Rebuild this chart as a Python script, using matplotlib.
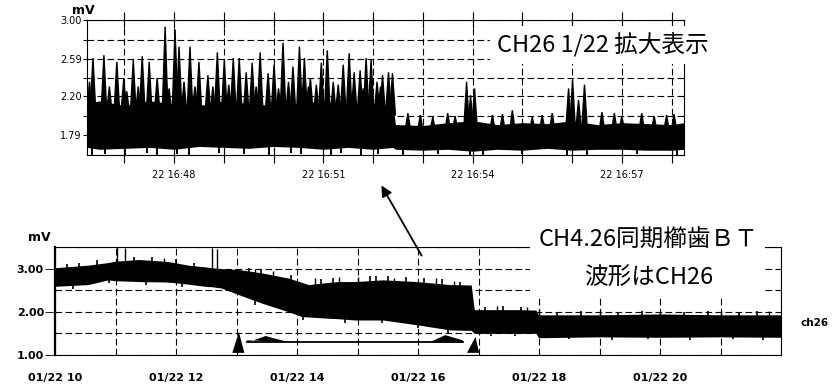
import matplotlib
matplotlib.use("Agg")
import matplotlib.pyplot as plt
import numpy as np
from matplotlib.patches import Rectangle

JP = ["Noto Sans CJK JP", "DejaVu Sans"]

# ---- zoomed trace (minutes after 16:00) ----
zoom_env_t = [46.25, 46.5, 47.0, 47.5, 48.0, 48.5, 49.0, 49.5, 50.0, 50.5, 51.0, 51.5, 52.0, 52.4,
              52.45, 53.0, 53.5, 54.0, 54.5, 55.0, 55.5, 56.0, 56.5, 57.0, 57.5, 58.0, 58.25]
zoom_env_lo = [1.66, 1.64, 1.65, 1.66, 1.64, 1.67, 1.66, 1.65, 1.67, 1.66, 1.64, 1.66, 1.64, 1.66,
               1.64, 1.63, 1.64, 1.62, 1.64, 1.63, 1.65, 1.63, 1.64, 1.64, 1.63, 1.63, 1.64]
zoom_env_hi = [2.12, 2.15, 2.10, 2.15, 2.12, 2.10, 2.15, 2.12, 2.10, 2.12, 2.15, 2.10, 2.12, 2.10,
               1.90, 1.89, 1.92, 1.94, 1.90, 1.92, 1.91, 1.94, 1.90, 1.92, 1.91, 1.90, 1.92]
zoom_spike_t = [46.37, 46.59, 46.85, 46.99, 47.18, 47.36, 47.50, 47.66, 47.82, 48.02, 48.10, 48.32,
                48.50, 48.68, 48.87, 49.01, 49.19, 49.31, 49.45, 49.57, 49.73, 49.89, 50.01, 50.19,
                50.39, 50.52, 50.62, 50.74, 50.86, 50.96, 51.08, 51.20, 51.40, 51.52, 51.62, 51.74,
                51.86, 51.96, 52.08, 52.19, 52.31, 52.39, 53.88, 53.96, 54.04, 55.93, 56.01, 56.13,
                56.25,
                46.30, 46.70, 47.05, 47.28, 47.90, 48.20, 48.42, 48.78, 49.10, 49.65, 50.10, 50.30,
                50.70, 51.30, 51.80, 52.15,
                52.70, 53.20, 53.50, 54.40, 54.80, 55.20, 55.60, 56.60, 57.00, 57.40, 57.90,
                52.95, 53.65, 54.60, 55.40, 56.85, 57.65, 58.05]
zoom_spike_v = [2.60, 2.63, 2.56, 2.39, 2.58, 2.62, 2.56, 2.39, 2.93, 2.90, 2.72, 2.72,
                2.56, 2.42, 2.66, 2.58, 2.60, 2.60, 2.45, 2.55, 2.66, 2.44, 2.53, 2.76,
                2.51, 2.72, 2.60, 2.39, 2.32, 2.55, 2.68, 2.35, 2.53, 2.65, 2.45, 2.47,
                2.60, 2.58, 2.35, 2.42, 2.45, 2.44, 2.35, 2.21, 2.28, 2.28, 2.37, 2.16,
                2.32,
                2.35, 2.30, 2.25, 2.30, 2.28, 2.35, 2.30, 2.30, 2.32, 2.30, 2.28, 2.35,
                2.30, 2.32, 2.28, 2.30,
                2.02, 1.98, 2.02, 2.00, 2.05, 1.98, 2.02, 2.03, 1.99, 2.02, 2.00,
                2.00, 1.99, 2.01, 2.00, 2.02, 1.99, 2.01]
zoom_dip_t = [46.35, 46.62, 47.02, 47.45, 47.65, 48.05, 48.30, 48.90, 49.40, 49.90, 50.35, 50.55,
              51.15, 51.35, 51.75, 52.10, 52.60, 53.30, 53.95, 54.20, 55.00, 55.90, 56.30, 57.30, 58.10]
zoom_dip_v = [1.58, 1.59, 1.58, 1.60, 1.58, 1.59, 1.58, 1.60, 1.59, 1.58, 1.60, 1.59,
              1.58, 1.60, 1.58, 1.59, 1.58, 1.59, 1.57, 1.58, 1.59, 1.58, 1.57, 1.59, 1.58]
zoom_xticks = [48, 51, 54, 57]
zoom_xlabels = ["22 16:48", "22 16:51", "22 16:54", "22 16:57"]
zoom_xminor = [47, 49, 50, 52, 53, 55, 56, 58]
zoom_yticks = [1.79, 2.20, 2.59, 3.00]
zoom_ylabels = ["1.79", "2.20", "2.59", "3.00"]
zoom_yminor = [1.99, 2.39, 2.79]

# ---- full trace (hours of 01/22) ----
day_env_t = [10.0, 10.55, 10.88, 10.99, 11.38, 11.82, 11.93, 12.2, 12.48, 12.59, 12.75, 13.03,
             13.42, 13.75, 13.86, 14.08, 14.19, 14.52, 14.68, 14.96, 15.42, 15.98, 16.53, 16.88,
             16.93, 17.64, 17.95, 17.99, 19.0, 20.0, 21.0, 22.0]
day_env_hi = [3.02, 3.08, 3.14, 3.17, 3.21, 3.17, 3.15, 3.08, 3.04, 3.02, 3.00, 2.98,
              2.90, 2.81, 2.78, 2.68, 2.63, 2.68, 2.70, 2.70, 2.74, 2.70, 2.63, 2.62,
              2.05, 2.05, 2.04, 1.93, 1.93, 1.95, 1.93, 1.93]
day_env_lo = [2.59, 2.63, 2.74, 2.72, 2.70, 2.69, 2.68, 2.64, 2.59, 2.58, 2.55, 2.40,
              2.20, 2.05, 2.00, 1.89, 1.88, 1.85, 1.84, 1.81, 1.81, 1.70, 1.58, 1.57,
              1.50, 1.50, 1.50, 1.40, 1.42, 1.41, 1.42, 1.41]
day_spike_t = [11.03, 11.15, 12.60, 12.68, 11.80, 13.30, 13.60, 14.30, 14.70, 15.00, 15.60, 16.30,
               16.60, 17.30, 17.80, 18.00, 19.00, 20.00, 21.00, 21.80]
day_spike_v = [3.50, 3.48, 3.48, 3.46, 3.25, 2.98, 2.94, 2.78, 2.80, 2.80, 2.78, 2.78,
               2.72, 2.14, 2.12, 2.06, 2.02, 2.03, 2.03, 2.02]
day_hair_t = [10.2, 10.4, 10.7, 11.3, 11.6, 12.0, 12.3, 13.2, 13.4, 13.9, 14.4, 14.6, 15.2, 15.3,
              15.5, 15.8, 16.1, 16.4, 16.7, 17.1, 17.4, 17.7, 18.3, 18.7, 19.3, 19.7, 20.4, 20.8,
              21.3, 21.6]
day_hair_v = [3.10, 3.14, 3.20, 3.28, 3.26, 3.22, 3.14, 3.02, 2.98, 2.86, 2.76, 2.78, 2.82, 2.84,
              2.82, 2.80, 2.78, 2.76, 2.70, 2.12, 2.14, 2.12, 2.00, 2.02, 2.00, 2.01, 2.00, 2.02,
              2.00, 2.01]
day_drop_t = [10.3, 10.9, 11.5, 12.1, 13.3, 14.1, 14.8, 15.4, 16.0, 16.5, 17.2, 17.6, 18.5,
              19.2, 19.8, 20.5, 21.2, 21.7]
day_drop_v = [2.53, 2.66, 2.62, 2.58, 2.16, 1.82, 1.74, 1.73, 1.62, 1.52, 1.45, 1.44, 1.36,
              1.35, 1.37, 1.35, 1.36, 1.35]
day_xticks = [10, 12, 14, 16, 18, 20]
day_xlabels = ["01/22 10", "01/22 12", "01/22 14", "01/22 16", "01/22 18", "01/22 20"]
day_xminor = [11, 13, 15, 17, 19, 21]
day_yticks = [1.0, 2.0, 3.0]
day_ylabels = ["1.00", "2.00", "3.00"]
day_yminor = [1.5, 2.5, 3.5]

GRID = dict(color="black", lw=0.8, linestyle=(0, (6, 3)))

fig = plt.figure(figsize=(8.4, 3.87), dpi=100)

# zoomed panel
ax1 = fig.add_axes([87 / 840, 1 - 155 / 387, 597 / 840, 135 / 387])
ax1.set_axisbelow(True)
ax1.fill_between(zoom_env_t, zoom_env_lo, zoom_env_hi, color="black", lw=0)
w = 0.06
for t, v in zip(zoom_spike_t, zoom_spike_v):
    base = 2.0 if t < 52.42 else 1.82
    ax1.fill([t - w, t, t + w], [base, v, base], color="black", lw=1.0)
ax1.vlines(zoom_dip_t, 1.72, zoom_dip_v, color="black", lw=1.4)
ax1.set_xlim(46.25, 58.25)
ax1.set_ylim(1.58, 3.00)
ax1.set_xticks(zoom_xticks)
ax1.set_xticklabels(zoom_xlabels)
ax1.set_xticks(zoom_xminor, minor=True)
ax1.set_yticks(zoom_yticks)
ax1.set_yticklabels(zoom_ylabels)
ax1.set_yticks(zoom_yminor, minor=True)
ax1.grid(which="both", **GRID)
ax1.tick_params(axis="x", which="both", direction="inout", length=11, width=0.8,
                top=True, labelsize=7, pad=5)
ax1.tick_params(axis="y", which="both", length=3, width=0.8, labelsize=7, pad=1)
for s in ax1.spines.values():
    s.set_linewidth(0.8)

# full day panel
ax2 = fig.add_axes([55 / 840, 1 - 355 / 387, 726 / 840, 108 / 387])
ax2.set_axisbelow(True)
ax2.fill_between(day_env_t, day_env_lo, day_env_hi, color="black", lw=0)
ax2.vlines(day_spike_t, np.interp(day_spike_t, day_env_t, day_env_hi) - 0.05, day_spike_v,
           color="black", lw=1.0)
ax2.vlines(day_hair_t, np.interp(day_hair_t, day_env_t, day_env_hi) - 0.05, day_hair_v,
           color="black", lw=1.2)
ax2.vlines(day_drop_t, np.interp(day_drop_t, day_env_t, day_env_lo) + 0.05, day_drop_v,
           color="black", lw=1.2)
ax2.set_xlim(10, 22)
ax2.set_ylim(1.0, 3.5)
ax2.set_xticks(day_xticks)
ax2.set_xticklabels(day_xlabels)
ax2.set_xticks(day_xminor, minor=True)
ax2.set_yticks(day_yticks)
ax2.set_yticklabels(day_ylabels)
ax2.set_yticks(day_yminor, minor=True)
ax2.grid(which="both", **GRID)
ax2.tick_params(axis="x", which="both", length=0, labelsize=8, pad=13)
ax2.tick_params(axis="y", which="major", length=7, width=0.6, labelsize=8, pad=1)
ax2.tick_params(axis="y", which="minor", length=0)
for lab in ax2.get_xticklabels() + ax2.get_yticklabels():
    lab.set_fontweight("bold")
for s in ax2.spines.values():
    s.set_linewidth(0.8)
ax2.spines["left"].set_linewidth(1.6)

# period markers under the trace
ax2.fill([12.93, 13.04, 13.13], [1.05, 1.53, 1.05], color="black", lw=0)
ax2.fill([16.81, 16.95, 17.01], [1.05, 1.42, 1.05], color="black", lw=0)
ax2.plot([13.17, 16.74], [1.30, 1.30], color="black", lw=1.3)
ax2.fill([13.17, 13.48, 13.85, 13.17], [1.28, 1.44, 1.30, 1.34], color="black", lw=0)
ax2.fill([16.20, 16.45, 16.74, 16.74], [1.30, 1.46, 1.34, 1.28], color="black", lw=0)

# arrow from the full trace up to the zoomed panel
ax2.annotate("", xy=(380, 387 - 183), xycoords="figure pixels",
             xytext=(423, 387 - 258), textcoords="figure pixels",
             arrowprops=dict(arrowstyle="-|>", color="black", lw=1.3, mutation_scale=16),
             annotation_clip=False)

# labels
fig.text(603 / 840, 1 - 45 / 387, "CH26 1/22 拡大表示", family=JP, fontsize=17,
         ha="center", va="center", zorder=6,
         bbox=dict(fc="white", ec="none", pad=5))
fig.add_artist(Rectangle((530 / 840, 1 - 297 / 387), 235 / 840, 69 / 387,
                         transform=fig.transFigure, fc="white", ec="none", zorder=5))
fig.text(649 / 840, 1 - 240 / 387, "CH4.26同期櫛歯ＢＴ", family=JP, fontsize=17,
         ha="center", va="center", zorder=6)
fig.text(649 / 840, 1 - 278 / 387, "波形はCH26", family=JP, fontsize=17,
         ha="center", va="center", zorder=6)
fig.text(83 / 840, 1 - 11 / 387, "mV", fontsize=9, fontweight="bold", ha="center", va="center")
fig.text(39 / 840, 1 - 238 / 387, "mV", fontsize=9, fontweight="bold", ha="center", va="center")
fig.text(815 / 840, 1 - 323 / 387, "ch26", fontsize=7.5, fontweight="bold", ha="center", va="center")

fig.savefig("out.png", dpi=100)
